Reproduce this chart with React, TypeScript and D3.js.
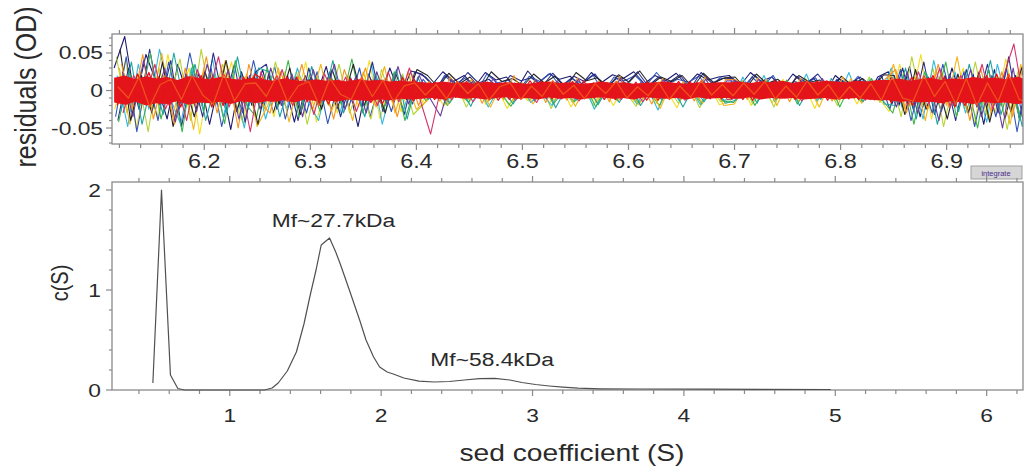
import React from 'react';
import * as d3 from 'd3';

// ---------- Residuals panel data (milli-OD, regular radius grid) ----------
const RES_X0 = 6.115;
const RES_DX = 0.01;
const RES_UNIT = 0.001; // values below are in mOD

const RES_NAVY = [30,72,-15,48,10,-38,35,-10,22,-45,18,-52,25,-20, 28,-30,15,-42,20,-10,32,-25,12,-48,22,-15,30,-8,26, 22,8,25,12,20,5,24,14,18,2,26,10,22,15,19,6,24,11,21,16,25,9,20,13,23,7,22,14,18, 20,6,24,12,18,3,22,10,16,-5,20,8,14,-10,18, 25,-20,32,-35,18,-28,30,-15,22,-45,28,-38,20,-30];
const RES_BLUE = [-35,45,-55,20,-40,38,-25,50,-15,30,-48,12,-30,40, -20,32,-38,18,-30,25,-44,10,-22,30,-35,15,-28,20,-18, 15,-5,20,8,17,-3,22,10,14,0,19,12,23,4,16,9,21,-2,18,13,20,6,24,8,15,11,19,3,17, 14,-8,18,5,20,-4,12,8,17,-6,15,2,19,-3,16, -25,28,-40,15,-30,35,-20,25,-48,18,-35,30,-55,22];
const RES_CYAN = [20,-48,35,-25,55,-10,-45,30,-20,42,-35,15,-50,28, -38,12,-25,30,-15,-40,22,-30,18,-20,35,-45,10,-25,15, -10,12,-18,5,-14,8,-22,3,-12,10,-16,-4,-20,6,-15,9,-25,2,-12,7,-18,4,-26,10,-14,5,-19,8,-13, -12,18,-8,20,-15,10,-6,22,-14,8,-10,24,-12,15,-9, 30,-22,15,-38,40,-18,25,-30,10,-42,35,-20,18,-35];
const RES_GREEN = [-42,25,-20,50,-38,15,-55,35,-28,22,-44,40,-18,-36, 30,-22,40,-35,15,-28,20,-18,42,-30,12,-26,25,-40,8, -14,6,-20,2,-16,10,-12,-4,-21,5,-10,8,-18,0,-15,6,-22,4,-13,9,-17,-2,-20,7,-11,3,-18,6,-14, -16,10,-20,6,-12,14,-18,4,-10,12,-22,8,-15,16,-12, -30,20,-45,25,-15,38,-35,12,-50,28,-25,15,-40,30];
const RES_LIME = [45,-30,22,-55,30,-15,42,-40,55,-22,35,-8,-45,20, -25,38,-12,25,-45,18,-20,35,-30,10,-38,28,-15,22,-32, -18,4,-12,10,-22,2,-15,7,-19,-3,-13,9,-24,5,-16,3,-20,8,-11,-2,-21,6,-14,4,-17,9,-23,2,-15, -10,14,-18,8,-22,12,-9,16,-14,6,-20,10,-12,18,-16, 22,-35,45,-20,30,-48,15,-25,38,-32,20,-52,25,-18];
const RES_YELLOW = [-25,40,-50,12,-35,48,-18,30,-58,25,-12,38,-40,15, 18,-35,25,-20,38,-42,12,-30,20,-22,40,-38,15,-28,22, -16,8,-21,3,-13,11,-19,5,-24,0,-14,7,-17,10,-22,2,-12,6,-20,4,-15,8,-18,1,-23,6,-13,9,-19, -14,12,-20,5,-16,15,-11,8,-24,10,-13,6,-18,14,-10, -28,35,-20,48,-38,25,-15,30,-45,20,-30,42,-22,-40];
const RES_ORANGE = [35,-25,48,-38,20,-45,30,-20,45,-30,25,-50,35,-15, -30,25,-18,35,-25,15,-38,28,-12,30,-22,18,-35,25,-20, 12,-14,18,-10,15,-17,9,-12,20,-8,14,-16,11,-13,17,-9,13,-15,19,-11,10,-18,16,-7,12,-14,18,-10,15, 14,-12,17,-8,12,-15,16,-10,13,-14,18,-9,11,-13,15, 28,-30,20,-25,35,-22,18,-40,30,-28,25,-35,32,-20];
const RES_BLACK = [55,-40,20,-30,38,-48,15,-35,25,-20,40,-28,18,-45, 22,-18,30,-32,18,-25,28,-15,35,-20,15,-30,22,-12,28, 20,4,23,9,18,2,25,12,16,6,22,10,19,3,24,13,17,5,21,11,26,7,18,12,20,4,23,10,17, 18,2,22,9,15,4,20,11,14,-2,19,7,16,3,21, 20,-32,28,-25,15,-38,22,-30,25,-42,18,-28,30,-35];
const RES_PINK = [-30,20,-15,35,-25,12,-40,28,-10,45,-22,18,-55,25, -15,28,-20,15,-32,22,-10,18,-28,12,-20,25,-15,30,-12, -58,5,-12,8,-15,3,-10,6,-13,2,-16,9,-11,4,-14,7,-9,3,-12,8,-15,5,-10,2,-13,6,-11,4,-12, -10,8,-12,5,-9,10,-14,6,-8,12,-11,4,-13,9,-10, 15,-20,25,-18,30,-22,20,-15,35,-25,18,62,-20,25];
const RES_PURPLE = [25,-35,40,-18,30,-42,22,-28,35,-15,28,-38,20,-25, 30,-20,22,-35,28,-15,35,-25,18,-30,25,-20,32,-18,20, -10,-34,15,-8,12,-5,16,-9,10,-6,14,-11,13,-4,15,-7,11,-8,17,-3,12,-10,14,-6,9,-8,15,-5,13, 12,-6,15,-9,10,-4,13,-8,16,-5,11,-10,14,-7,12, -22,25,-30,18,-40,22,-18,28,-35,20,-50,30,-45,18];
const RES_TEAL = [-28,38,-45,15,-32,50,-20,35,-40,12,-30,45,-25,30, 25,-35,15,-28,32,-18,40,-30,10,-35,22,-15,28,-38,18, -12,7,-17,4,-21,9,-11,2,-18,6,-14,11,-23,3,-13,8,-19,5,-16,10,-20,1,-12,7,-22,4,-15,9,-17, -13,9,-17,14,-8,11,-20,6,-12,16,-9,7,-15,12,-18, -20,30,-38,22,-45,15,-28,35,-20,40,-32,18,-48,26];
const RES_GOLD = [30,-45,25,-20,50,-35,18,-52,28,-15,40,-30,22,-48, -20,30,-42,18,-15,35,-28,12,-40,25,-18,32,-30,15,-25, -14,5,-19,9,-12,3,-22,7,-15,10,-18,2,-13,8,-21,5,-16,11,-14,0,-19,6,-24,9,-12,4,-17,7,-20, -18,7,-12,15,-20,9,-14,5,-22,11,-10,16,-17,8,-13, 35,-25,18,-40,28,-20,45,-30,22,-38,15,-45,35,-28];
const RES_INDIGO = [-40,30,-25,55,-20,40,-48,22,-35,50,-18,35,-42,25, 35,-25,20,-40,30,-18,25,-35,15,-22,38,-28,18,-32,25, 18,3,21,7,24,10,15,1,20,13,17,5,23,8,19,12,22,2,16,9,25,6,18,11,21,3,24,10,16, 16,5,21,8,13,-3,19,10,22,4,15,9,18,1,20, -18,30,-25,38,-32,20,-40,28,-22,35,-30,45,-38,25];
const RES_RED_A = [15,-18,22,-12,18,-20,10,-15,20,-22,14,-10,18,-16, -14,16,-10,18,-15,12,-18,14,-8,15,-16,10,-12,17,-14, 10,-12,8,-9,12,-7,11,-13,6,-10,13,-8,9,-11,12,-6,10,-12,7,-9,11,-13,8,-10,12,-7,9,-11,10, -11,9,-13,12,-8,10,-12,7,-9,13,-10,8,-12,11,-7, 14,-16,18,-12,20,-18,15,-20,12,-17,22,-15,18,-20];
const RES_RED_B = [-20,14,-12,24,-18,10,-22,16,-14,18,-20,12,-16,22, 12,-15,18,-10,14,-17,10,-13,16,-12,14,-18,11,-10,15, -9,11,-13,7,-10,12,-8,9,-12,10,-7,12,-11,8,-9,13,-10,7,-12,9,-8,11,-13,10,-9,12,-7,8,-11, 10,-12,8,-9,13,-10,11,-8,12,-13,9,-11,10,-12,8, -16,12,-20,15,-13,18,-22,14,-16,20,-12,19,-17,14];
const RES_RED_C = [5,-10,18,-22,8,15,-12,20,-6,-18,22,-14,9,10, -8,20,-15,6,12,-20,16,-5,-12,18,-8,14,-15,6,10, -6,8,-11,12,-4,9,-13,5,10,-12,6,-8,13,-5,7,-11,9,-4,12,-10,5,-7,11,-12,6,-9,13,-6,8, -7,10,-5,12,-11,6,-9,13,-6,8,-12,5,-10,9,-13, 18,-10,-14,20,-8,12,-18,16,-20,10,-15,22,-12,-16];
const RES_CORE_HI = [17,20,15,19,16,18,14,19,17,15,18,16,14,17, 15,13,16,14,12,15,13,14,12,15,13,14,12,13,12, 11,10,12,10,11,9,12,10,11,10,9,11,12,10,11,9,10,12,10,11,9,10,11,12,10,9,11,10,11, 11,12,10,12,11,13,10,12,11,13,12,11,13,12,14, 14,16,13,15,17,14,16,15,18,16,17,15,18,16];
const RES_CORE_LO = [-16,-19,-15,-20,-17,-18,-14,-19,-16,-17,-15,-18,-14,-16, -14,-15,-13,-16,-12,-14,-13,-15,-12,-13,-14,-12,-13,-11,-12, -11,-10,-12,-9,-11,-10,-12,-10,-9,-11,-10,-12,-9,-11,-10,-12,-10,-9,-11,-10,-12,-9,-10,-11,-10,-12,-9,-11,-10, -10,-11,-9,-12,-10,-11,-10,-12,-11,-10,-12,-11,-10,-12,-13, -13,-15,-14,-16,-15,-17,-14,-16,-18,-15,-17,-16,-18,-17];

const RES_SCANS = [RES_NAVY, RES_YELLOW, RES_BLUE, RES_LIME, RES_CYAN, RES_INDIGO, RES_GREEN, RES_GOLD, RES_BLACK, RES_TEAL, RES_ORANGE, RES_PURPLE, RES_PINK];
const RES_RED_SCANS = [RES_RED_A, RES_RED_B, RES_RED_C];

// ---------- c(S) distribution data ----------
const SED_S = [0.492, 0.549, 0.608, 0.657, 0.70, 1.23, 1.28, 1.32, 1.38, 1.44, 1.49, 1.53, 1.57, 1.604, 1.659, 1.70, 1.73, 1.79, 1.86, 1.90, 1.95, 1.99, 2.04, 2.08, 2.15, 2.25, 2.35, 2.45, 2.55, 2.65, 2.75, 2.85, 2.93, 3.02, 3.11, 3.20, 3.30, 3.45, 3.70, 4.15, 4.50, 4.97];
const SED_C = [0.07, 2.0, 0.15, 0.015, 0.0, 0.0, 0.02, 0.07, 0.19, 0.38, 0.66, 0.94, 1.2, 1.45, 1.52, 1.38, 1.26, 1.0, 0.69, 0.5, 0.33, 0.23, 0.18, 0.16, 0.12, 0.088, 0.08, 0.085, 0.1, 0.113, 0.117, 0.1, 0.075, 0.055, 0.04, 0.028, 0.018, 0.012, 0.01, 0.008, 0.006, 0.005];

// ---------- Tick labels & annotations ----------
const TOP_X_TICKS = [6.2, 6.3, 6.4, 6.5, 6.6, 6.7, 6.8, 6.9];
const TOP_Y_TICKS = [-0.05, 0, 0.05];
const BOT_X_TICKS = [1, 2, 3, 4, 5, 6];
const BOT_Y_TICKS = [0, 1, 2];
const ANNOT_TEXT = ['Mf~27.7kDa', 'Mf~58.4kDa'];
const ANNOT_S = [1.277, 2.325];
const ANNOT_C = [1.63, 0.24];

// ---------- Styles ----------
const SCAN_COLORS = ['#1c1a6e', '#f3de1f', '#2f55b8', '#b5d334', '#34b8e0', '#2a2f8f', '#3cb44b', '#f2b416', '#262626', '#20a3a0', '#f7941d', '#6a3d9a', '#d6336c'];
const RED = '#e4141b';
const FONT = '"Liberation Sans", Arial, Helvetica, sans-serif';
const TXT = '#2a2a2a';
const FRAME = '#8a8a8a';
const SX = 1.2;

const W = 1027, H = 471;
const TOP = { l: 112, r: 1023, t: 34, b: 144 };
const BOT = { l: 112, r: 1023, t: 182, b: 390 };

function HText(props: any) {
  const { x, y, anchor = 'middle', size = 19, children, fill = TXT } = props;
  return (
    <text transform={`translate(${x},${y}) scale(${SX},1)`} textAnchor={anchor} fontSize={size} fontFamily={FONT} fill={fill}>
      {children}
    </text>
  );
}

export default function App() {
  const xTop = d3.scaleLinear().domain([6.113, 6.972]).range([TOP.l, TOP.r]);
  const yTop = d3.scaleLinear().domain([-0.0713, 0.0753]).range([TOP.b, TOP.t]);
  const xBot = d3.scaleLinear().domain([0.222, 6.24]).range([BOT.l, BOT.r]);
  const yBot = d3.scaleLinear().domain([0, 2.08]).range([BOT.b, BOT.t]);

  const resX = (i: number, k: number) => xTop(RES_X0 + RES_DX * i + k * 0.0007);
  const scanLine = (vals: number[], k: number) =>
    d3.line<number>().x((_, i) => resX(i, k)).y((v) => yTop(v * RES_UNIT))(vals) || '';
  const coreArea = d3
    .area<number>()
    .x((_, i) => resX(i, 0))
    .y0((_, i) => yTop(RES_CORE_LO[i] * RES_UNIT))
    .y1((v) => yTop(v * RES_UNIT))(RES_CORE_HI) || '';

  const sedLine = d3
    .line<number>()
    .x((s) => xBot(s))
    .y((_, i) => yBot(SED_C[i]))(SED_S) || '';

  const topMinorX = xTop.ticks(40);
  const topMinorY = yTop.ticks(15);
  const botMinorX = xBot.ticks(30);
  const botMinorY = yBot.ticks(10);
  const isMajor = (v: number, majors: number[]) => majors.some((m) => Math.abs(m - v) < 1e-6);

  return (
    <svg width={W} height={H} style={{ position: 'absolute', left: 0, top: 0, background: '#fff' }}>
      <defs>
        <clipPath id="topClip">
          <rect x={TOP.l} y={TOP.t} width={TOP.r - TOP.l} height={TOP.b - TOP.t} />
        </clipPath>
      </defs>
      <rect x={0} y={0} width={W} height={H} fill="#fff" />

      {/* ---------------- Residuals panel ---------------- */}
      <g clipPath="url(#topClip)">
        {RES_SCANS.map((vals, k) => (
          <path key={k} d={scanLine(vals, k)} fill="none" stroke={SCAN_COLORS[k]} strokeWidth={1.1} strokeLinejoin="round" />
        ))}
        <path d={coreArea} fill={RED} />
        {RES_RED_SCANS.map((vals, k) => (
          <path key={k} d={scanLine(vals, k + 3)} fill="none" stroke={k === 2 ? '#f0501a' : RED} strokeWidth={1.3} strokeLinejoin="round" />
        ))}
      </g>
      <rect x={TOP.l} y={TOP.t} width={TOP.r - TOP.l} height={TOP.b - TOP.t} fill="none" stroke={FRAME} strokeWidth={1.3} />
      {topMinorX.map((v) => {
        const major = isMajor(v, TOP_X_TICKS);
        const len = major ? 6 : 4;
        return (
          <g key={v}>
            <line x1={xTop(v)} x2={xTop(v)} y1={TOP.b} y2={TOP.b + len} stroke={FRAME} strokeWidth={1.2} />
            <line x1={xTop(v)} x2={xTop(v)} y1={TOP.t} y2={TOP.t - len} stroke={FRAME} strokeWidth={1.2} />
          </g>
        );
      })}
      {topMinorY.map((v) => {
        const major = isMajor(v, TOP_Y_TICKS);
        return <line key={v} x1={TOP.l} x2={TOP.l - (major ? 6 : 3)} y1={yTop(v)} y2={yTop(v)} stroke={FRAME} strokeWidth={1.2} />;
      })}
      {TOP_X_TICKS.map((v) => (
        <HText key={v} x={xTop(v)} y={168} size={19.5}>{String(v)}</HText>
      ))}
      {TOP_Y_TICKS.map((v) => (
        <HText key={v} x={103} y={yTop(v) + 6.5} anchor="end" size={19}>{String(v)}</HText>
      ))}
      <text transform={`translate(36,87) scale(${SX},1) rotate(-90)`} textAnchor="middle" fontSize={25} fontFamily={FONT} fill={TXT}>
        residuals (OD)
      </text>

      {/* integrate button */}
      <rect x={971} y={166} width={51} height={13} fill="#d6d6d6" stroke="#a0a0a0" strokeWidth={1} />
      <text x={996} y={175.5} textAnchor="middle" fontSize={7.5} fontFamily={FONT} fill="#4a2c8f">integrate</text>

      {/* ---------------- c(S) panel ---------------- */}
      <rect x={BOT.l} y={BOT.t} width={BOT.r - BOT.l} height={BOT.b - BOT.t} fill="none" stroke={FRAME} strokeWidth={1.3} />
      {botMinorX.map((v) => {
        const major = isMajor(v, BOT_X_TICKS);
        const len = major ? 6 : 4;
        return (
          <g key={v}>
            <line x1={xBot(v)} x2={xBot(v)} y1={BOT.b} y2={BOT.b + len} stroke={FRAME} strokeWidth={1.2} />
            <line x1={xBot(v)} x2={xBot(v)} y1={BOT.t} y2={BOT.t - len} stroke={FRAME} strokeWidth={1.2} />
          </g>
        );
      })}
      {botMinorY.map((v) => {
        const major = isMajor(v, BOT_Y_TICKS);
        return <line key={v} x1={BOT.l} x2={BOT.l - (major ? 6 : 3)} y1={yBot(v)} y2={yBot(v)} stroke={FRAME} strokeWidth={1.2} />;
      })}
      <path d={sedLine} fill="none" stroke="#505050" strokeWidth={1.2} strokeLinejoin="round" />
      {BOT_X_TICKS.map((v) => (
        <HText key={v} x={xBot(v)} y={422} size={19}>{String(v)}</HText>
      ))}
      {BOT_Y_TICKS.map((v) => (
        <HText key={v} x={101} y={yBot(v) + 7} anchor="end" size={19}>{String(v)}</HText>
      ))}
      {ANNOT_TEXT.map((t, i) => (
        <HText key={t} x={xBot(ANNOT_S[i])} y={yBot(ANNOT_C[i])} anchor="start" size={19}>{t}</HText>
      ))}
      <text transform={`translate(68,283) scale(${SX},1) rotate(-90)`} textAnchor="middle" fontSize={20} fontFamily={FONT} fill={TXT}>
        c(S)
      </text>
      <HText x={572} y={461} size={23.5}>sed coefficient (S)</HText>
    </svg>
  );
}
